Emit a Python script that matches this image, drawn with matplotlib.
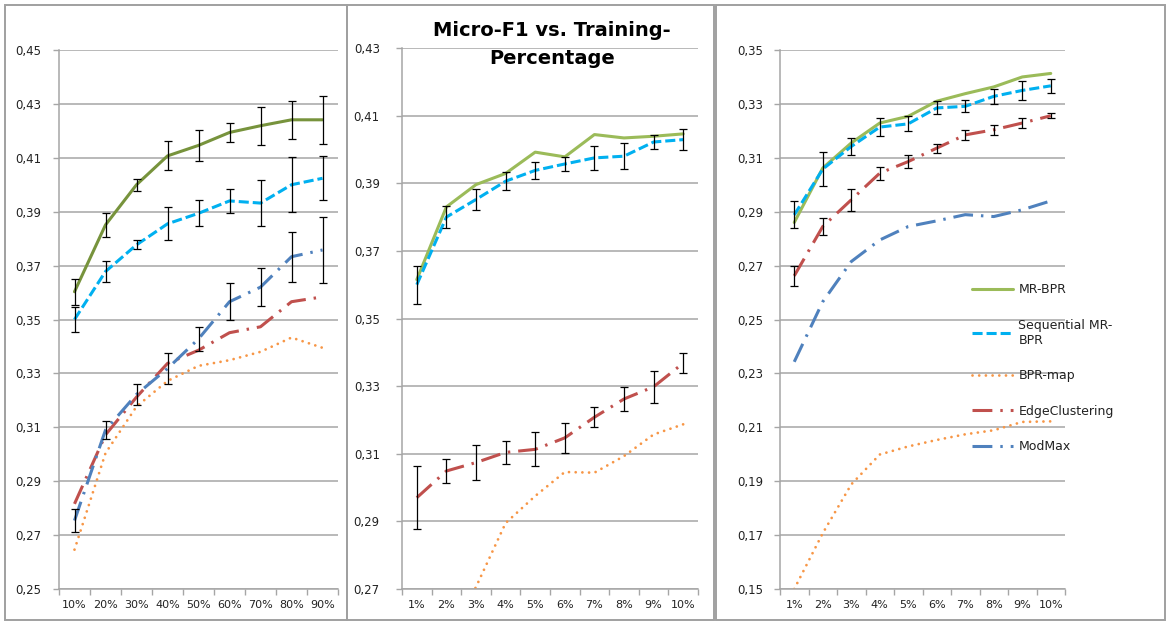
import matplotlib
matplotlib.use("Agg")
from matplotlib import pyplot as plt
from matplotlib.patches import Rectangle

W, H = 1167, 622

# category labels
pct_left = ['10%', '20%', '30%', '40%', '50%', '60%', '70%', '80%', '90%']
pct_small = ['1%', '2%', '3%', '4%', '5%', '6%', '7%', '8%', '9%', '10%']

# left panel values
left_mrbpr = [0.3603, 0.3851, 0.4000, 0.4107, 0.4146, 0.4194, 0.4219, 0.4241, 0.4241]
left_mrbpr_err = [0.0048, 0.0046, 0.0022, 0.0054, 0.0058, 0.0034, 0.0071, 0.0071, 0.0088]
left_seq = [0.3500, 0.3678, 0.3777, 0.3855, 0.3894, 0.3940, 0.3932, 0.4000, 0.4024]
left_seq_err = [0.0047, 0.0039, 0.0017, 0.0061, 0.0048, 0.0043, 0.0085, 0.0102, 0.0082]
left_bpr = [0.2646, 0.3004, 0.3177, 0.3272, 0.3328, 0.3349, 0.3380, 0.3433, 0.3395]
left_edge = [0.2816, 0.3072, 0.3212, 0.3337, 0.3386, 0.3451, 0.3473, 0.3566, 0.3584]
left_modmax = [0.2754, 0.3090, 0.3222, 0.3318, 0.3428, 0.3566, 0.3620, 0.3733, 0.3758]
left_modmax_err = [0.0043, 0.0035, 0.0039, 0.0056, 0.0044, 0.0068, 0.0070, 0.0092, 0.0121]

# middle panel values
mid_mrbpr = [0.3615, 0.3830, 0.3896, 0.3929, 0.3992, 0.3978, 0.4044, 0.4034, 0.4039, 0.4046]
mid_seq = [0.3600, 0.3800, 0.3852, 0.3906, 0.3938, 0.3957, 0.3975, 0.3980, 0.4022, 0.4029]
mid_seq_err = [0.0056, 0.0033, 0.0031, 0.0027, 0.0026, 0.0020, 0.0035, 0.0039, 0.0022, 0.0032]
mid_bpr = [0.2400, 0.2550, 0.2706, 0.2895, 0.2975, 0.3046, 0.3044, 0.3093, 0.3157, 0.3187]
mid_edge = [0.2970, 0.3049, 0.3074, 0.3104, 0.3113, 0.3147, 0.3208, 0.3262, 0.3298, 0.3368]
mid_edge_err = [0.0094, 0.0035, 0.0053, 0.0034, 0.0050, 0.0045, 0.0030, 0.0036, 0.0048, 0.0029]

# right panel values
right_mrbpr = [0.2860, 0.3062, 0.3155, 0.3229, 0.3254, 0.3310, 0.3338, 0.3363, 0.3400, 0.3413]
right_seq = [0.2888, 0.3058, 0.3142, 0.3214, 0.3226, 0.3285, 0.3291, 0.3328, 0.3350, 0.3367]
right_seq_err = [0.0050, 0.0064, 0.0032, 0.0034, 0.0028, 0.0024, 0.0022, 0.0029, 0.0036, 0.0025]
right_bpr = [0.1500, 0.1707, 0.1888, 0.1999, 0.2029, 0.2053, 0.2074, 0.2089, 0.2120, 0.2122]
right_edge = [0.2662, 0.2845, 0.2944, 0.3043, 0.3086, 0.3136, 0.3185, 0.3204, 0.3229, 0.3256]
right_edge_err = [0.0038, 0.0033, 0.0040, 0.0024, 0.0023, 0.0017, 0.0019, 0.0019, 0.0020, 0.0010]
right_modmax = [0.2343, 0.2566, 0.2715, 0.2795, 0.2845, 0.2866, 0.2889, 0.2882, 0.2907, 0.2940]

GREEN_DARK = '#77933C'
STY = {
    'MR-BPR': dict(color='#9BBB59', lw=2.2, ls='-', solid_capstyle='round'),
    'Sequential MR-BPR': dict(color='#00B0F0', lw=2.2, dashes=(3.3, 1.3)),
    'BPR-map': dict(color='#F79646', lw=2.0, dashes=(0.01, 2.4), dash_capstyle='round'),
    'EdgeClustering': dict(color='#C0504D', lw=2.2, dashes=(6.5, 2.6, 0.8, 2.6)),
    'ModMax': dict(color='#4F81BD', lw=2.2, dashes=(6.5, 2.6, 0.8, 2.6)),
}
GRID = '#a6a6a6'


def px_axes(fig, x0, x1, y0, y1):
    return fig.add_axes([x0 / W, 1 - y1 / H, (x1 - x0) / W, (y1 - y0) / H])


def style_axes(ax, labels, ylo, yhi, ypad):
    n = len(labels)
    ax.set_xlim(-0.5, n - 0.5)
    ax.set_ylim(ylo, yhi)
    yt = [round(ylo + 0.02 * i, 2) for i in range(int(round((yhi - ylo) / 0.02)) + 1)]
    ax.set_yticks(yt)
    ax.set_yticklabels([f'{v:.2f}'.replace('.', ',') for v in yt])
    ax.set_xticks([i - 0.5 for i in range(n + 1)])
    ax.set_xticklabels([])
    ax.set_xticks(range(n), minor=True)
    ax.set_xticklabels(labels, minor=True)
    ax.tick_params(axis='x', which='major', length=4, color=GRID, width=1)
    ax.tick_params(axis='x', which='minor', length=0, pad=8, labelsize=8, labelcolor='#222222')
    ax.tick_params(axis='y', length=4, color=GRID, width=1, pad=ypad, labelsize=8.5,
                   labelcolor='#222222')
    ax.grid(axis='y', color=GRID, lw=1.1)
    ax.set_axisbelow(True)
    for s in ['top', 'right']:
        ax.spines[s].set_visible(False)
    for s in ['left', 'bottom']:
        ax.spines[s].set_color(GRID)
        ax.spines[s].set_linewidth(1.1)


def errbars(ax, y, e):
    ax.errorbar(range(len(y)), y, yerr=e, fmt='none', ecolor='black', elinewidth=0.9,
                capsize=2.6, capthick=0.9, zorder=6)


fig = plt.figure(figsize=(W / 100, H / 100), dpi=100)

# panel frames
for x0, x1 in [(5, 347), (347, 714), (716, 1165)]:
    fig.add_artist(Rectangle((x0 / W, 1 - 620 / H), (x1 - x0) / W, 615 / H,
                             transform=fig.transFigure, fill=False, ec='#a0a0a0', lw=1.4))

# left panel
ax1 = px_axes(fig, 59, 338, 50, 589)
style_axes(ax1, pct_left, 0.25, 0.45, 9)
x = range(len(pct_left))
ax1.plot(x, left_mrbpr, **dict(STY['MR-BPR'], color=GREEN_DARK))
ax1.plot(x, left_seq, **STY['Sequential MR-BPR'])
ax1.plot(x, left_bpr, **STY['BPR-map'])
ax1.plot(x, left_edge, **STY['EdgeClustering'])
ax1.plot(x, left_modmax, **STY['ModMax'])
errbars(ax1, left_mrbpr, left_mrbpr_err)
errbars(ax1, left_seq, left_seq_err)
errbars(ax1, left_modmax, left_modmax_err)

# middle panel
ax2 = px_axes(fig, 402, 698, 48, 589)
style_axes(ax2, pct_small, 0.27, 0.43, 12)
x = range(len(pct_small))
ax2.plot(x, mid_mrbpr, **STY['MR-BPR'])
ax2.plot(x, mid_seq, **STY['Sequential MR-BPR'])
ax2.plot(x, mid_bpr, **STY['BPR-map'])
ax2.plot(x, mid_edge, **STY['EdgeClustering'])
errbars(ax2, mid_seq, mid_seq_err)
errbars(ax2, mid_edge, mid_edge_err)

# right panel
ax3 = px_axes(fig, 780, 1065, 50, 589)
style_axes(ax3, pct_small, 0.15, 0.35, 8)
handles = []
handles += ax3.plot(x, right_mrbpr, **STY['MR-BPR'])
handles += ax3.plot(x, right_seq, **STY['Sequential MR-BPR'])
handles += ax3.plot(x, right_bpr, **STY['BPR-map'])
handles += ax3.plot(x, right_edge, **STY['EdgeClustering'])
handles += ax3.plot(x, right_modmax, **STY['ModMax'])
errbars(ax3, right_seq, right_seq_err)
errbars(ax3, right_edge, right_edge_err)

fig.legend(handles, ['MR-BPR', 'Sequential MR-\nBPR', 'BPR-map', 'EdgeClustering', 'ModMax'],
           loc='upper left', bbox_to_anchor=(972 / W, 1 - 283 / H), frameon=False,
           borderpad=0, borderaxespad=0, handlelength=3.3, handletextpad=0.4,
           labelspacing=1.8, fontsize=9, labelcolor='#222222')

fig.text(552 / W, 1 - 44 / H, 'Micro-F1 vs. Training-\nPercentage', ha='center', va='center',
         fontsize=14, fontweight='bold', linespacing=1.6)

fig.savefig('out.png', dpi=100)
